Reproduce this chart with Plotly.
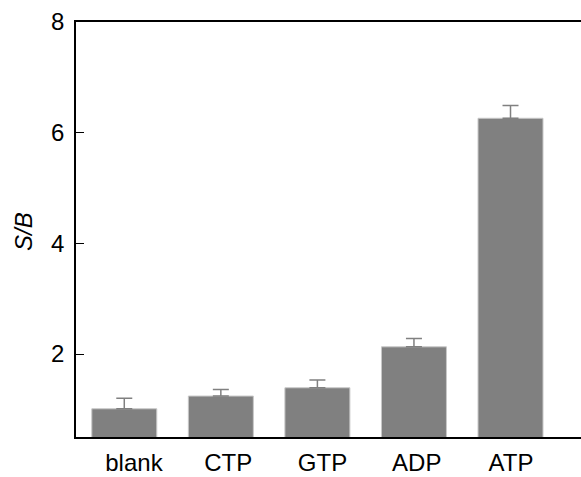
import plotly.graph_objects as go

categories = ["blank", "CTP", "GTP", "ADP", "ATP"]
values = [1.01, 1.24, 1.39, 2.13, 6.26]
errors = [0.19, 0.12, 0.14, 0.15, 0.23]
y_ticks = [2, 4, 6, 8]

fig = go.Figure()
fig.add_trace(go.Bar(
    x=categories, y=values,
    marker=dict(color="#808080", line=dict(color="#c8c8c8", width=1)),
    error_y=dict(type="data", symmetric=False, array=errors,
                 arrayminus=[0] * len(errors),
                 color="#808080", thickness=1.5, width=8),
))
# invisible carrier trace for the label axis (labels sit slightly off bar centres)
fig.add_trace(go.Scatter(
    x=list(range(len(categories))), y=values, xaxis="x2",
    mode="markers", marker=dict(opacity=0), hoverinfo="skip", showlegend=False,
))

W, H = 581, 477
L, T, B, R = 76, 22, 40, 0
fig.update_layout(
    width=W, height=H,
    margin=dict(l=L, t=T, b=B, r=R),
    plot_bgcolor="white", paper_bgcolor="white",
    bargap=0.327,
    showlegend=False,
    font=dict(family="Liberation Sans, Arial, sans-serif", size=24, color="black"),
    xaxis=dict(
        range=[-0.5, 4.73],
        showline=True, linecolor="black", linewidth=1.5, mirror=True,
        showgrid=False, ticks="", zeroline=False, showticklabels=False,
    ),
    xaxis2=dict(
        overlaying="x", side="bottom", anchor="y",
        range=[-0.615, 4.743],
        tickvals=list(range(len(categories))), ticktext=categories,
        showline=False, showgrid=False, zeroline=False, ticks="",
        tickfont=dict(size=24), ticklabelstandoff=9,
    ),
    yaxis=dict(
        range=[0.5, 8],
        tickvals=y_ticks,
        showline=True, linecolor="black", linewidth=1.5, mirror=False,
        showgrid=False, zeroline=False,
        ticks="inside", ticklen=8, tickwidth=1, tickcolor="black",
        tickfont=dict(size=24), ticklabelstandoff=5,
    ),
)
fig.add_annotation(
    text="<i>S/B</i>", textangle=-90,
    xref="paper", yref="paper",
    x=(23 - L) / (W - L - R), y=0.5 + (229.5 - 232) / (H - T - B),
    xanchor="center", yanchor="middle",
    showarrow=False, font=dict(size=24),
)
fig.write_html("out.html")
